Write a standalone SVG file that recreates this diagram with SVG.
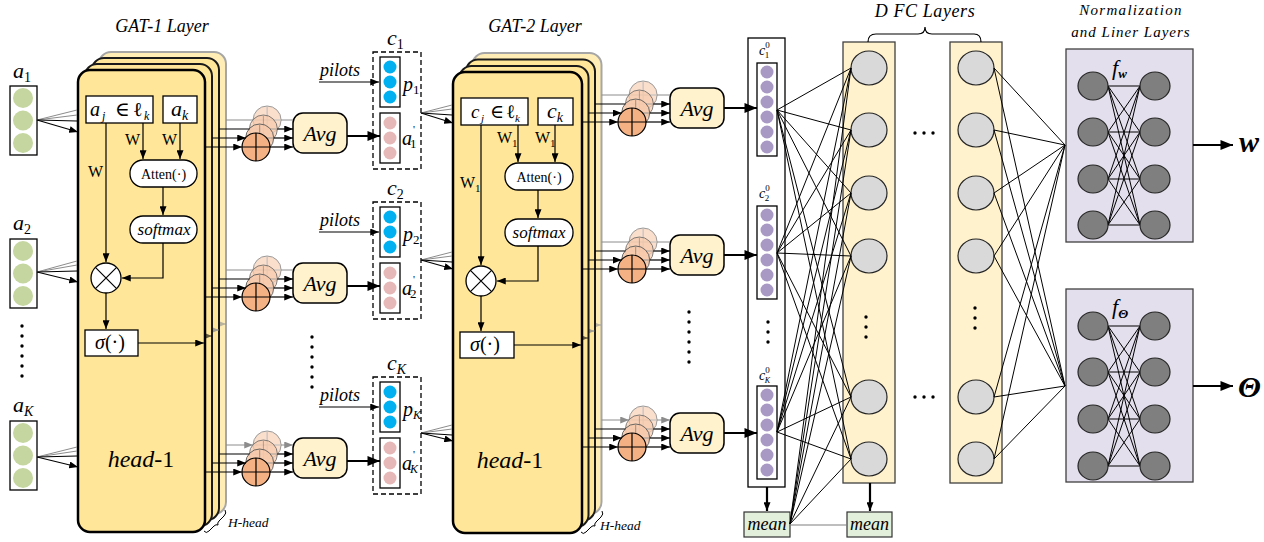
<svg xmlns="http://www.w3.org/2000/svg" width="1264" height="542" viewBox="0 0 1264 542" font-family="'Liberation Serif','DejaVu Serif',serif">
<style>
text{font-family:"Liberation Serif","DejaVu Serif",serif;fill:#000}
.it{font-style:italic}
.up{font-style:normal}
.bi{font-style:italic;font-weight:bold}
.ln{stroke:#000;stroke-width:1.2;fill:none}
.lt{stroke:#000;stroke-width:1;fill:none}
.lg{stroke:#8c8c8c;stroke-width:1;fill:none}
.lk{stroke:#000;stroke-width:2.2;fill:none}
.wb{fill:#fff;stroke:#000;stroke-width:1.3}
.avg{fill:#FFF2CC;stroke:#000;stroke-width:1.5}
.g0{fill:#FFE699;stroke:#000;stroke-width:2.5}
.g1{fill:#FFE699;stroke:#1a1a1a;stroke-width:2}
.g3{fill:#FFEDB5;stroke:#a6a6a6;stroke-width:2}
.cbox{fill:#fff;stroke:#000;stroke-width:1.3;stroke-dasharray:5 3}
.fc{fill:#FFF2CC;stroke:#404040;stroke-width:1.3}
.fn{fill:#D9D9D9;stroke:#262626;stroke-width:1.2}
.nb{fill:#E4DFEC;stroke:#404040;stroke-width:1.3}
.nn{fill:#7F7F7F;stroke:#262626;stroke-width:1.2}
.sf{fill:#F4B183;stroke:#000;stroke-width:1.2}
.sb{fill:#F8CBAD;stroke:#595959;stroke-width:1}
.gr{fill:#C5D6A0}
.bl{fill:#00B0F0}
.pk{fill:#E6B9B8}
.pu{fill:#A898C4}
.mean{fill:#E2EFDA;stroke:#333;stroke-width:1.2}
</style>
<defs>
<marker id="a" viewBox="0 0 10 8" refX="10" refY="4" markerWidth="9" markerHeight="7" orient="auto" markerUnits="userSpaceOnUse"><path d="M0,0L10,4L0,8z" fill="#000"/></marker>
<marker id="ag" viewBox="0 0 10 8" refX="10" refY="4" markerWidth="9" markerHeight="7" orient="auto" markerUnits="userSpaceOnUse"><path d="M0,0L10,4L0,8z" fill="#8c8c8c"/></marker>
<marker id="A" viewBox="0 0 10 8" refX="10" refY="4" markerWidth="13" markerHeight="10" orient="auto" markerUnits="userSpaceOnUse"><path d="M0,0L10,4L0,8z" fill="#000"/></marker>
<g id="sum4">
<g opacity="0.6"><circle class="sb" cx="11.1" cy="-27" r="14"/><path class="lg" d="M11.1,-41V-13M-2.9,-27H25.1"/></g>
<g opacity="0.75"><circle class="sb" cx="7.4" cy="-18" r="14"/><path class="lg" d="M7.4,-32V-4M-6.6,-18H21.4"/></g>
<g opacity="0.9"><circle class="sb" cx="3.7" cy="-9" r="14"/><path class="lg" d="M3.7,-23V5M-10.3,-9H17.7"/></g>
<circle class="sf" cx="0" cy="0" r="14"/><path class="ln" d="M0,-14V14M-14,0H14"/>
</g>
<g id="vecg">
<rect class="wb" x="0" y="0" width="27" height="69"/>
<circle class="gr" cx="13" cy="12" r="10"/><circle class="gr" cx="13" cy="34.5" r="10"/><circle class="gr" cx="13" cy="57" r="10"/>
</g>
<g id="cblk">
<rect class="cbox" x="373" y="52" width="48" height="117"/>
<rect class="wb" x="380" y="57" width="20" height="50"/>
<circle class="bl" cx="390" cy="67" r="6.5"/><circle class="bl" cx="390" cy="82" r="6.5"/><circle class="bl" cx="390" cy="97" r="6.5"/>
<rect class="wb" x="380" y="113" width="20" height="50"/>
<circle class="pk" cx="390" cy="123" r="6.5"/><circle class="pk" cx="390" cy="138" r="6.5"/><circle class="pk" cx="390" cy="153" r="6.5"/>
<path class="ln" d="M319,82H379" marker-end="url(#a)"/>
<text x="320" y="76" font-size="18" class="it">pilots</text>
</g>
<g id="c0v">
<rect class="wb" x="757" y="0" width="20" height="93"/>
<circle class="pu" cx="767" cy="9" r="6.5"/><circle class="pu" cx="767" cy="24" r="6.5"/><circle class="pu" cx="767" cy="39" r="6.5"/><circle class="pu" cx="767" cy="54" r="6.5"/><circle class="pu" cx="767" cy="69" r="6.5"/><circle class="pu" cx="767" cy="84" r="6.5"/>
</g>
</defs>

<rect width="1264" height="542" fill="#fff"/>

<!-- titles -->
<text x="162" y="32" font-size="18" class="it" text-anchor="middle">GAT-1 Layer</text>
<text x="535" y="32" font-size="18" class="it" text-anchor="middle">GAT-2 Layer</text>
<text x="925" y="17" font-size="18" class="it" text-anchor="middle" letter-spacing="0.6">D FC Layers</text>
<text x="1131" y="15" font-size="15" class="it" text-anchor="middle" letter-spacing="1.3">Normalization</text>
<text x="1131" y="37" font-size="15" class="it" text-anchor="middle" letter-spacing="1">and Liner Layers</text>

<!-- inputs a -->
<g id="in-a1"><use href="#vecg" x="10" y="86"/><text x="13" y="78" font-size="22" class="it">a<tspan font-size="14" dy="4" class="up">1</tspan></text></g>
<g id="in-a2"><use href="#vecg" x="10" y="239"/><text x="13" y="230" font-size="22" class="it">a<tspan font-size="14" dy="4" class="up">2</tspan></text></g>
<g id="in-aK"><use href="#vecg" x="10" y="421"/><text x="13" y="412" font-size="22" class="it">a<tspan font-size="14" dy="4">K</tspan></text></g>
<g id="dots-a" fill="#000"><circle cx="22" cy="326" r="1.7"/><circle cx="22" cy="336" r="1.7"/><circle cx="22" cy="346" r="1.7"/><circle cx="22" cy="356" r="1.7"/><circle cx="22" cy="366" r="1.7"/><circle cx="22" cy="376" r="1.7"/></g>

<!-- GAT-1 -->
<g id="gat1">
<rect class="g3" x="99" y="52" width="127" height="462" rx="12"/>
<path class="lg" d="M170,324H226" marker-end="url(#ag)" opacity="0.6"/>
<rect class="g1" x="92" y="58" width="127" height="462" rx="12"/>
<path class="lg" d="M170,330H219" marker-end="url(#ag)" opacity="0.8"/>
<rect class="g1" x="85" y="64" width="127" height="462" rx="12"/>
<path class="ln" d="M170,336H212" marker-end="url(#a)" opacity="0.6"/>
<rect class="g0" x="78" y="70" width="127" height="462" rx="12"/>
<rect class="wb" x="86" y="96" width="67" height="27"/>
<rect class="wb" x="163" y="96" width="34" height="27"/>
<text x="90" y="116" font-size="20"><tspan class="it">a</tspan><tspan class="it" font-size="12" x="102" dy="4">j</tspan><tspan x="115" dy="-4">∈</tspan><tspan x="133">ℓ</tspan><tspan class="it" font-size="12" x="144" dy="4">k</tspan></text>
<text x="171" y="116" font-size="22" class="it">a<tspan font-size="14" dy="4">k</tspan></text>
<path class="ln" d="M143,123V159" marker-end="url(#a)"/>
<path class="ln" d="M180,123V159" marker-end="url(#a)"/>
<path class="ln" d="M106,123V262" marker-end="url(#a)"/>
<text x="125" y="145" font-size="16">W</text>
<text x="162" y="145" font-size="16">W</text>
<text x="88" y="177" font-size="16">W</text>
<rect class="wb" x="130" y="160" width="67" height="27" rx="13"/>
<text x="163.5" y="179" font-size="14" text-anchor="middle">Atten(·)</text>
<path class="ln" d="M163,187V215" marker-end="url(#a)"/>
<rect class="wb" x="130" y="216" width="67" height="27" rx="13"/>
<text x="164" y="235" font-size="17" class="it" text-anchor="middle">softmax</text>
<path class="ln" d="M163,243V278H122" marker-end="url(#a)"/>
<circle class="wb" cx="106" cy="278" r="15"/>
<path class="ln" d="M95.4,267.4L116.6,288.6M116.6,267.4L95.4,288.6"/>
<path class="ln" d="M106,293V329" marker-end="url(#a)"/>
<rect class="wb" x="85" y="330" width="53" height="26"/>
<text x="95" y="349" font-size="20"><tspan class="it">σ</tspan>(·)</text>
<path class="ln" d="M138,343H204" marker-end="url(#a)"/>
<text x="141" y="467" font-size="24" text-anchor="middle"><tspan class="it">head</tspan>-1</text>
<path class="lt" d="M204,531Q206,534 209,531L214,526Q216,524 218,525Q217,523 219,521L224,516Q227,513 225,510"/>
<text x="228" y="527" font-size="13.5" class="it">H-head</text>
</g>

<!-- GAT-2 -->
<g id="gat2">
<rect class="g3" x="472.5" y="53" width="129" height="461" rx="12"/>
<path class="lg" d="M545,325H601" marker-end="url(#ag)" opacity="0.6"/>
<rect class="g1" x="466" y="59.5" width="129" height="461" rx="12"/>
<path class="lg" d="M545,331H594.5" marker-end="url(#ag)" opacity="0.8"/>
<rect class="g1" x="459.5" y="66" width="129" height="461" rx="12"/>
<path class="ln" d="M545,338H588" marker-end="url(#a)" opacity="0.6"/>
<rect class="g0" x="453" y="72" width="129" height="461" rx="12"/>
<rect class="wb" x="461" y="98" width="67" height="27"/>
<rect class="wb" x="538" y="98" width="35" height="27"/>
<text x="471" y="118" font-size="19"><tspan class="it">c</tspan><tspan class="it" font-size="11" x="481" dy="4">j</tspan><tspan x="490" dy="-4">∈</tspan><tspan x="506">ℓ</tspan><tspan class="it" font-size="11" x="515" dy="4">k</tspan></text>
<text x="547" y="118" font-size="22" class="it">c<tspan font-size="14" dy="4">k</tspan></text>
<path class="ln" d="M518,125V162" marker-end="url(#a)"/>
<path class="ln" d="M555,125V162" marker-end="url(#a)"/>
<path class="ln" d="M481,125V265" marker-end="url(#a)"/>
<text x="497" y="143" font-size="16">W<tspan font-size="11" dy="4">1</tspan></text>
<text x="535" y="143" font-size="16">W<tspan font-size="11" dy="4">1</tspan></text>
<text x="460" y="188" font-size="16">W<tspan font-size="11" dy="4">1</tspan></text>
<rect class="wb" x="505" y="163" width="68" height="27" rx="13"/>
<text x="539" y="182" font-size="14" text-anchor="middle">Atten(·)</text>
<path class="ln" d="M538,190V218" marker-end="url(#a)"/>
<rect class="wb" x="505" y="219" width="68" height="27" rx="13"/>
<text x="539" y="238" font-size="17" class="it" text-anchor="middle">softmax</text>
<path class="ln" d="M538,246V281H497" marker-end="url(#a)"/>
<circle class="wb" cx="481" cy="281" r="15"/>
<path class="ln" d="M470.4,270.4L491.6,291.6M491.6,270.4L470.4,291.6"/>
<path class="ln" d="M481,296V331" marker-end="url(#a)"/>
<rect class="wb" x="460" y="332" width="54" height="26"/>
<text x="470" y="351" font-size="20"><tspan class="it">σ</tspan>(·)</text>
<path class="ln" d="M514,345H581" marker-end="url(#a)"/>
<text x="510" y="468" font-size="24" text-anchor="middle"><tspan class="it">head</tspan>-1</text>
<path class="lt" d="M581,532Q583,535 586,532L591,527Q593,525 595,526Q594,524 596,522L601,517Q604,514 602,511"/>
<text x="600" y="530" font-size="13.5" class="it">H-head</text>
</g>

<!-- sum nodes -->
<g id="sum1-1"><use href="#sum4" x="256" y="147"/></g>
<g id="sum1-2"><use href="#sum4" x="256" y="297"/></g>
<g id="sum1-K"><use href="#sum4" x="256" y="472"/></g>
<g id="sum2-1"><use href="#sum4" x="632" y="122"/></g>
<g id="sum2-2"><use href="#sum4" x="632" y="269"/></g>
<g id="sum2-K"><use href="#sum4" x="632" y="447"/></g>

<!-- Avg nodes -->
<g id="avg1-1"><rect class="avg" x="293" y="113" width="54" height="40" rx="10"/><text x="320" y="141" font-size="22" class="it" text-anchor="middle">Avg</text></g>
<g id="avg1-2"><rect class="avg" x="293" y="263" width="54" height="40" rx="10"/><text x="320" y="291" font-size="22" class="it" text-anchor="middle">Avg</text></g>
<g id="avg1-K"><rect class="avg" x="293" y="438" width="54" height="40" rx="10"/><text x="320" y="466" font-size="22" class="it" text-anchor="middle">Avg</text></g>
<g id="avg2-1"><rect class="avg" x="670" y="88" width="54" height="40" rx="10"/><text x="697" y="116" font-size="22" class="it" text-anchor="middle">Avg</text></g>
<g id="avg2-2"><rect class="avg" x="670" y="235" width="54" height="40" rx="10"/><text x="697" y="263" font-size="22" class="it" text-anchor="middle">Avg</text></g>
<g id="avg2-K"><rect class="avg" x="670" y="413" width="54" height="40" rx="10"/><text x="697" y="441" font-size="22" class="it" text-anchor="middle">Avg</text></g>

<!-- c blocks -->
<g id="c1"><use href="#cblk"/>
<text x="387" y="45" font-size="22" class="it">c<tspan font-size="14" dy="4" class="up">1</tspan></text>
<text x="403" y="91" font-size="20" class="it">p<tspan font-size="13" dy="3" class="up">1</tspan></text>
<text x="402" y="145" font-size="20" class="it">a<tspan font-size="11" dy="-12" dx="1" class="up">'</tspan><tspan font-size="13" dx="-5" dy="15" class="up">1</tspan></text></g>
<g id="c2"><use href="#cblk" y="150"/>
<text x="387" y="195" font-size="22" class="it">c<tspan font-size="14" dy="4" class="up">2</tspan></text>
<text x="403" y="241" font-size="20" class="it">p<tspan font-size="13" dy="3" class="up">2</tspan></text>
<text x="402" y="295" font-size="20" class="it">a<tspan font-size="11" dy="-12" dx="1" class="up">'</tspan><tspan font-size="13" dx="-5" dy="15" class="up">2</tspan></text></g>
<g id="cK"><use href="#cblk" y="325"/>
<text x="387" y="370" font-size="22" class="it">c<tspan font-size="14" dy="4">K</tspan></text>
<text x="403" y="416" font-size="20" class="it">p<tspan font-size="12" dy="3">K</tspan></text>
<text x="402" y="470" font-size="20" class="it">a<tspan font-size="11" dy="-12" dx="1" class="up">'</tspan><tspan font-size="12" dx="-5" dy="15">K</tspan></text></g>
<g id="dots-c" fill="#000"><circle cx="312" cy="337" r="1.7"/><circle cx="312" cy="347" r="1.7"/><circle cx="312" cy="357" r="1.7"/><circle cx="312" cy="367" r="1.7"/><circle cx="312" cy="377" r="1.7"/><circle cx="312" cy="387" r="1.7"/></g>
<g id="dots-g2" fill="#000"><circle cx="689" cy="312" r="1.7"/><circle cx="689" cy="322" r="1.7"/><circle cx="689" cy="332" r="1.7"/><circle cx="689" cy="342" r="1.7"/><circle cx="689" cy="352" r="1.7"/><circle cx="689" cy="362" r="1.7"/></g>

<!-- c0 column -->
<g id="c0col">
<rect class="wb" x="748" y="38" width="37" height="449" stroke="#333"/>
<use href="#c0v" y="63"/><use href="#c0v" y="206"/><use href="#c0v" y="386"/>
<text x="759" y="55" font-size="14" class="it">c<tspan font-size="9" dy="-7" class="up">0</tspan><tspan font-size="9" dx="-5" dy="10" class="up">1</tspan></text>
<text x="759" y="198" font-size="14" class="it">c<tspan font-size="9" dy="-7" class="up">0</tspan><tspan font-size="9" dx="-5" dy="10" class="up">2</tspan></text>
<text x="759" y="380" font-size="14" class="it">c<tspan font-size="9" dy="-7" class="up">0</tspan><tspan font-size="8" dx="-5" dy="10">K</tspan></text>
<g fill="#000"><circle cx="768" cy="322" r="1.7"/><circle cx="768" cy="332" r="1.7"/><circle cx="768" cy="342" r="1.7"/></g>
</g>

<!-- FC layers -->
<g id="fc1">
<rect class="fc" x="843" y="42" width="52" height="441"/>
<ellipse class="fn" cx="869" cy="68" rx="18" ry="17"/><ellipse class="fn" cx="869" cy="130" rx="18" ry="17"/><ellipse class="fn" cx="869" cy="193" rx="18" ry="17"/><ellipse class="fn" cx="869" cy="256" rx="18" ry="17"/><ellipse class="fn" cx="869" cy="397" rx="18" ry="17"/><ellipse class="fn" cx="869" cy="459" rx="18" ry="17"/>
<g fill="#000"><circle cx="866" cy="317" r="1.7"/><circle cx="866" cy="327" r="1.7"/><circle cx="866" cy="337" r="1.7"/></g>
</g>
<g id="fc2">
<rect class="fc" x="950" y="42" width="52" height="441"/>
<ellipse class="fn" cx="976" cy="68" rx="18" ry="17"/><ellipse class="fn" cx="976" cy="130" rx="18" ry="17"/><ellipse class="fn" cx="976" cy="193" rx="18" ry="17"/><ellipse class="fn" cx="976" cy="256" rx="18" ry="17"/><ellipse class="fn" cx="976" cy="397" rx="18" ry="17"/><ellipse class="fn" cx="976" cy="459" rx="18" ry="17"/>
<g fill="#000"><circle cx="975" cy="308" r="1.7"/><circle cx="975" cy="318" r="1.7"/><circle cx="975" cy="328" r="1.7"/></g>
</g>
<g id="fcdots" fill="#000"><circle cx="915" cy="133" r="1.7"/><circle cx="924" cy="133" r="1.7"/><circle cx="933" cy="133" r="1.7"/><circle cx="915" cy="397" r="1.7"/><circle cx="924" cy="397" r="1.7"/><circle cx="933" cy="397" r="1.7"/></g>
<path id="brace" class="ln" d="M868,42Q868,34 876,34L918,34Q925,34 925,27Q925,34 932,34L974,34Q981,34 981,42"/>

<!-- mean nodes -->
<g id="mean1"><rect class="mean" x="744" y="512" width="46" height="25"/><text x="767" y="530" font-size="18" class="it" text-anchor="middle">mean</text></g>
<g id="mean2"><rect class="mean" x="847" y="512" width="45" height="25"/><text x="869.5" y="530" font-size="18" class="it" text-anchor="middle">mean</text></g>

<!-- norm layers -->
<g id="norm-w">
<rect class="nb" x="1066" y="49" width="127" height="193"/>
<path class="lt" d="M1108,86L1140,86M1108,86L1140,132M1108,86L1140,179M1108,86L1140,225M1108,132L1140,86M1108,132L1140,132M1108,132L1140,179M1108,132L1140,225M1108,179L1140,86M1108,179L1140,132M1108,179L1140,179M1108,179L1140,225M1108,225L1140,86M1108,225L1140,132M1108,225L1140,179M1108,225L1140,225"/>
<ellipse class="nn" cx="1093" cy="86" rx="15" ry="14"/><ellipse class="nn" cx="1093" cy="132" rx="15" ry="14"/><ellipse class="nn" cx="1093" cy="179" rx="15" ry="14"/><ellipse class="nn" cx="1093" cy="225" rx="15" ry="14"/>
<ellipse class="nn" cx="1155" cy="86" rx="15" ry="14"/><ellipse class="nn" cx="1155" cy="132" rx="15" ry="14"/><ellipse class="nn" cx="1155" cy="179" rx="15" ry="14"/><ellipse class="nn" cx="1155" cy="225" rx="15" ry="14"/>
<text x="1112" y="75" font-size="22" class="it">f<tspan font-size="13" dy="3" class="bi">w</tspan></text>
</g>
<g id="norm-t">
<rect class="nb" x="1066" y="289" width="127" height="193"/>
<path class="lt" d="M1108,326L1140,326M1108,326L1140,372M1108,326L1140,419M1108,326L1140,466M1108,372L1140,326M1108,372L1140,372M1108,372L1140,419M1108,372L1140,466M1108,419L1140,326M1108,419L1140,372M1108,419L1140,419M1108,419L1140,466M1108,466L1140,326M1108,466L1140,372M1108,466L1140,419M1108,466L1140,466"/>
<ellipse class="nn" cx="1093" cy="326" rx="15" ry="14"/><ellipse class="nn" cx="1093" cy="372" rx="15" ry="14"/><ellipse class="nn" cx="1093" cy="419" rx="15" ry="14"/><ellipse class="nn" cx="1093" cy="466" rx="15" ry="14"/>
<ellipse class="nn" cx="1155" cy="326" rx="15" ry="14"/><ellipse class="nn" cx="1155" cy="372" rx="15" ry="14"/><ellipse class="nn" cx="1155" cy="419" rx="15" ry="14"/><ellipse class="nn" cx="1155" cy="466" rx="15" ry="14"/>
<text x="1112" y="314" font-size="22" class="it">f<tspan font-size="13" dy="4" class="bi">Θ</tspan></text>
</g>
<text x="1239" y="152" font-size="30" class="bi">w</text>
<text x="1238" y="397" font-size="30" class="bi">Θ</text>

<!-- connectors -->
<g id="connectors">
<path class="lg" d="M37,120L77,110M37,120L77,115M37,272L77,261M37,272L77,265M37,457L77,447M37,457L77,451"/>
<path class="ln" d="M37,120L77,121M37,272L77,271M37,457L77,456" stroke-width="1"/>
<path class="ln" d="M37,120L78,132" marker-end="url(#a)"/>
<path class="ln" d="M37,272L78,282" marker-end="url(#a)"/>
<path class="ln" d="M37,457L78,467" marker-end="url(#a)"/>
<path class="lg" d="M226,120H253M226,270H253M226,445H253" marker-end="url(#ag)"/>
<path class="ln" d="M219,129H249.5M219,279H249.5M219,454H249.5"/>
<path class="ln" d="M212,138H246" marker-end="url(#a)"/>
<path class="ln" d="M212,288H246" marker-end="url(#a)"/>
<path class="ln" d="M212,463H246" marker-end="url(#a)"/>
<path class="ln" d="M205,147H242" marker-end="url(#a)"/>
<path class="ln" d="M205,297H242" marker-end="url(#a)"/>
<path class="ln" d="M205,472H242" marker-end="url(#a)"/>
<path class="lg" d="M281,120H293M281,270H293M281,445H293" marker-end="url(#ag)"/>
<path class="ln" d="M277.4,129H293" marker-end="url(#a)"/>
<path class="ln" d="M273.7,138H293" marker-end="url(#a)"/>
<path class="ln" d="M270,147H293" marker-end="url(#a)"/>
<path class="ln" d="M277.4,279H293" marker-end="url(#a)"/>
<path class="ln" d="M273.7,288H293" marker-end="url(#a)"/>
<path class="ln" d="M270,297H293" marker-end="url(#a)"/>
<path class="ln" d="M277.4,454H293" marker-end="url(#a)"/>
<path class="ln" d="M273.7,463H293" marker-end="url(#a)"/>
<path class="ln" d="M270,472H293" marker-end="url(#a)"/>
<path class="lk" d="M347,136H380" marker-end="url(#A)"/>
<path class="lk" d="M347,286H380" marker-end="url(#A)"/>
<path class="lk" d="M347,461H380" marker-end="url(#A)"/>
<path class="lg" d="M421,113L452,105M421,113L452,109M421,260L452,252M421,260L452,256M421,433L452,425M421,433L452,429"/>
<path class="ln" d="M421,113L452,115M421,260L452,262M421,433L452,435" stroke-width="1"/>
<path class="ln" d="M421,113L453,123" marker-end="url(#a)"/>
<path class="ln" d="M421,260L453,269" marker-end="url(#a)"/>
<path class="ln" d="M421,433L453,441" marker-end="url(#a)"/>
<path class="lg" d="M601.5,95H629M601.5,242H629M601.5,420H629" marker-end="url(#ag)"/>
<path class="ln" d="M595,104H625.4M595,251H625.4M595,429H625.4"/>
<path class="ln" d="M588.5,113H621.7" marker-end="url(#a)"/>
<path class="ln" d="M588.5,260H621.7" marker-end="url(#a)"/>
<path class="ln" d="M588.5,438H621.7" marker-end="url(#a)"/>
<path class="ln" d="M582,122H618" marker-end="url(#a)"/>
<path class="ln" d="M582,269H618" marker-end="url(#a)"/>
<path class="ln" d="M582,447H618" marker-end="url(#a)"/>
<path class="lg" d="M657,95H670M657,242H670M657,420H670" marker-end="url(#ag)"/>
<path class="ln" d="M653.4,104H670" marker-end="url(#a)"/>
<path class="ln" d="M649.7,113H670" marker-end="url(#a)"/>
<path class="ln" d="M646,122H670" marker-end="url(#a)"/>
<path class="ln" d="M653.4,251H670" marker-end="url(#a)"/>
<path class="ln" d="M649.7,260H670" marker-end="url(#a)"/>
<path class="ln" d="M646,269H670" marker-end="url(#a)"/>
<path class="ln" d="M653.4,429H670" marker-end="url(#a)"/>
<path class="ln" d="M649.7,438H670" marker-end="url(#a)"/>
<path class="ln" d="M646,447H670" marker-end="url(#a)"/>
<path class="lk" d="M724,108H757" marker-end="url(#A)"/>
<path class="lk" d="M724,255H757" marker-end="url(#A)"/>
<path class="lk" d="M724,433H757" marker-end="url(#A)"/>
<path class="lt" d="M777,110L851,68M777,110L851,130M777,110L851,193M777,110L851,256M777,110L851,397M777,110L851,459M777,253L851,68M777,253L851,130M777,253L851,193M777,253L851,256M777,253L851,397M777,253L851,459M777,432L851,68M777,432L851,130M777,432L851,193M777,432L851,256M777,432L851,397M777,432L851,459M790,524L851,68M790,524L851,130M790,524L851,193M790,524L851,256M790,524L851,397M790,524L851,459"/>
<path class="lk" d="M767,487V511" stroke-width="1.8" marker-end="url(#a)"/>
<path class="lk" d="M870,483V511" stroke-width="1.8" marker-end="url(#a)"/>
<path d="M790,525H847" stroke="#7f7f7f" stroke-width="1.2" fill="none"/>
<path class="lt" d="M994,68L1065,145M994,130L1065,145M994,193L1065,145M994,256L1065,145M994,397L1065,145M994,459L1065,145M994,68L1065,386M994,130L1065,386M994,193L1065,386M994,256L1065,386M994,397L1065,386M994,459L1065,386"/>
<path class="lk" d="M1193,145H1233" marker-end="url(#A)"/>
<path class="lk" d="M1193,386H1233" marker-end="url(#A)"/>
</g>
</svg>
